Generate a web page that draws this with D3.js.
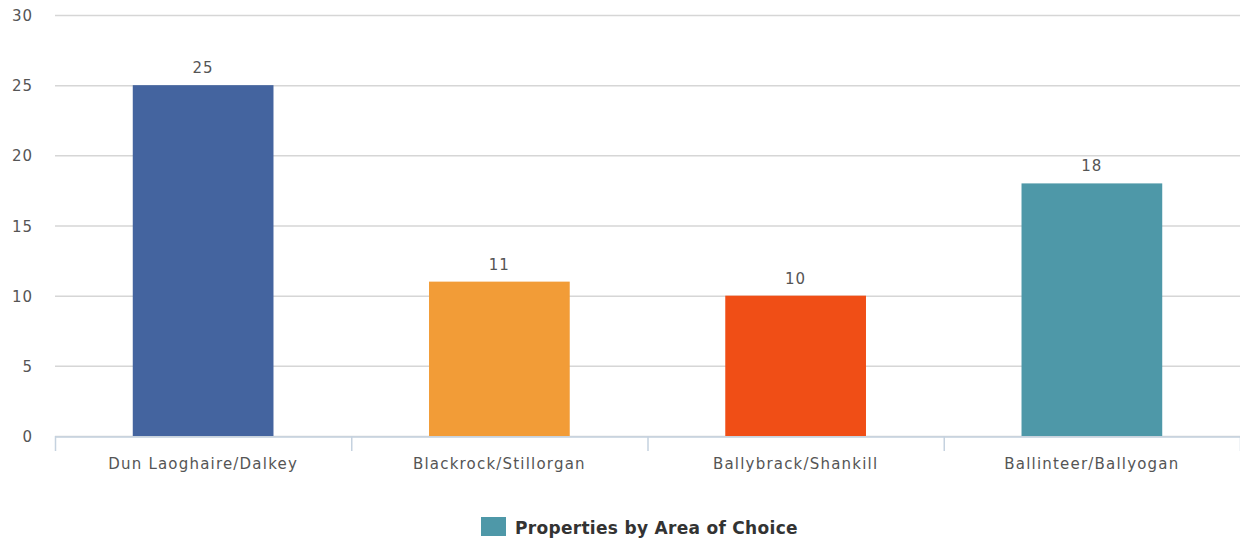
<!DOCTYPE html>
<html>
<head>
<meta charset="utf-8">
<script src="https://cdn.jsdelivr.net/npm/d3@7"></script>
<style>
  html, body { margin: 0; padding: 0; background: #fff; }
  svg { display: block; font-family: "DejaVu Sans", sans-serif; }
</style>
</head>
<body>
<svg width="1240" height="543"></svg>
<script>
const areas = ["Dun Laoghaire/Dalkey", "Blackrock/Stillorgan", "Ballybrack/Shankill", "Ballinteer/Ballyogan"];
const counts = [25, 11, 10, 18];
const barColors = ["#44649f", "#f29c37", "#f04e16", "#4e98a8"];
const yTicks = [0, 5, 10, 15, 20, 25, 30];
const seriesName = "Properties by Area of Choice";

const width = 1240, height = 543;
const margin = {top: 15, right: 0, bottom: 107, left: 55};

const svg = d3.select("svg");

const x = d3.scaleBand()
    .domain(areas)
    .range([margin.left, width - margin.right])
    .paddingInner(0.525)
    .paddingOuter(0.2625);

const y = d3.scaleLinear()
    .domain([0, 30])
    .range([height - margin.bottom, margin.top]);

// gridlines
svg.append("g")
    .selectAll("line")
    .data(yTicks)
    .join("line")
    .attr("x1", margin.left)
    .attr("x2", width - margin.right)
    .attr("y1", d => y(d) + 0.5)
    .attr("y2", d => y(d) + 0.5)
    .attr("stroke", "#d6d6d6")
    .attr("stroke-width", 1.5);

// y labels
svg.append("g")
    .selectAll("text")
    .data(yTicks)
    .join("text")
    .attr("x", 33)
    .attr("y", d => y(d) + 6)
    .attr("text-anchor", "end")
    .attr("fill", "#555")
    .style("font-size", "15px")
    .style("letter-spacing", "1px")
    .text(d => d);

// bars
svg.append("g")
    .selectAll("rect")
    .data(areas)
    .join("rect")
    .attr("x", d => x(d))
    .attr("width", x.bandwidth())
    .attr("y", (d, i) => y(counts[i]))
    .attr("height", (d, i) => y(0) - y(counts[i]))
    .attr("fill", (d, i) => barColors[i]);

// value labels
svg.append("g")
    .selectAll("text")
    .data(areas)
    .join("text")
    .attr("x", d => x(d) + x.bandwidth() / 2)
    .attr("y", (d, i) => y(counts[i]) - 12)
    .attr("text-anchor", "middle")
    .attr("fill", "#555")
    .style("font-size", "15px")
    .style("letter-spacing", "1px")
    .text((d, i) => counts[i]);

// x axis
const step = (width - margin.left - margin.right) / areas.length;
const xAxis = svg.append("g");
xAxis.append("line")
    .attr("x1", margin.left)
    .attr("x2", width - margin.right)
    .attr("y1", y(0) + 1)
    .attr("y2", y(0) + 1)
    .attr("stroke", "#c5d2df")
    .attr("stroke-width", 1.5);
xAxis.selectAll("line.tick")
    .data(d3.range(areas.length + 1))
    .join("line")
    .attr("class", "tick")
    .attr("x1", i => margin.left + i * step + 0.5)
    .attr("x2", i => margin.left + i * step + 0.5)
    .attr("y1", y(0))
    .attr("y2", y(0) + 15)
    .attr("stroke", "#c5d2df")
    .attr("stroke-width", 1.5);
xAxis.selectAll("text")
    .data(areas)
    .join("text")
    .attr("x", d => x(d) + x.bandwidth() / 2)
    .attr("y", y(0) + 33)
    .attr("text-anchor", "middle")
    .attr("fill", "#555")
    .style("font-size", "15px")
    .style("letter-spacing", "1.2px")
    .text(d => d);

// legend
const legend = svg.append("g").attr("transform", "translate(481,517)");
legend.append("rect")
    .attr("width", 25)
    .attr("height", 19)
    .attr("fill", "#4e98a8");
legend.append("text")
    .attr("x", 34)
    .attr("y", 17)
    .attr("fill", "#333")
    .style("font-size", "17px")
    .style("font-weight", "bold")
    .style("letter-spacing", "0.3px")
    .text(seriesName);
</script>
</body>
</html>
